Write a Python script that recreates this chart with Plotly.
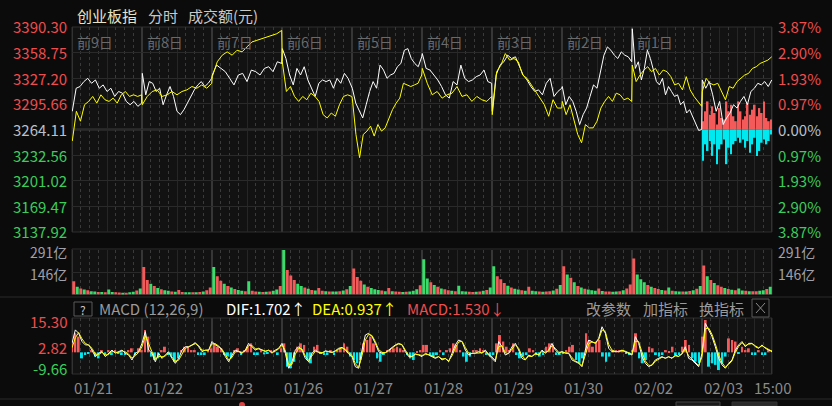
import numpy as np
import plotly.graph_objects as go

FONT = "Noto Sans CJK SC, Noto Sans, DejaVu Sans, sans-serif"
W, H = 832, 406
L, R = 72, 772          # plot area left/right in px
DAY = 240               # trading minutes per day
RED, GREEN, CYAN, YEL = "#f55a5a", "#3adc6a", "#00e8f0", "#ffff00"

# ---------------- labels ----------------
day_tags = ["前9日", "前8日", "前7日", "前6日", "前5日", "前4日", "前3日", "前2日", "前1日"]
date_tags = ["01/21", "01/22", "01/23", "01/26", "01/27", "01/28", "01/29", "01/30", "02/02", "02/03"]
close_tag = "15:00"
prev_close = 3264.11
price_ticks = [3390.30, 3358.75, 3327.20, 3295.66, 3264.11, 3232.56, 3201.02, 3169.47, 3137.92]
pct_text = ["3.87%", "2.90%", "1.93%", "0.97%", "0.00%", "0.97%", "1.93%", "2.90%", "3.87%"]
vol_ticks = [291, 146]
vol_text = ["291亿", "146亿"]
macd_ticks = [15.30, 2.82, -9.66]

# ---------------- 创业板指 (white) per day ----------------
cyb_0121 = [3286.5, 3314.9, 3317.0, 3323.1, 3327.1, 3321.0, 3325.1, 3314.9, 3319.0, 3310.9, 3314.9, 3304.8, 3310.9, 3308.8, 3298.7, 3294.6, 3298.7, 3292.6, 3296.6]
cyb_0122 = [3333.2, 3306.8, 3323.1, 3321.0, 3310.9, 3314.9, 3294.6, 3306.8, 3317.0, 3304.8, 3286.5, 3282.4, 3288.5, 3296.6, 3304.8, 3312.9, 3319.0, 3323.1, 3317.0, 3321.0, 3327.1]
cyb_0123 = [3331.2, 3343.4, 3339.3, 3335.3, 3327.1, 3319.0, 3331.2, 3333.2, 3323.1, 3337.3, 3335.3, 3331.2, 3339.3, 3341.4, 3335.3, 3347.5, 3345.4]
cyb_0126 = [3363.7, 3351.5, 3331.2, 3319.0, 3339.3, 3331.2, 3341.4, 3325.1, 3314.9, 3304.8, 3321.0, 3325.1, 3323.1, 3325.1, 3314.9, 3327.1, 3321.0, 3333.2, 3327.1, 3317.0]
cyb_0127 = [3314.9, 3296.6, 3286.5, 3278.3, 3294.6, 3310.9, 3323.1, 3314.9, 3343.4, 3337.3, 3327.1, 3331.2, 3333.2, 3341.4, 3345.4, 3361.7, 3363.7, 3351.5, 3345.4, 3341.4, 3353.6]
cyb_0128 = [3357.6, 3339.3, 3337.3, 3331.2, 3325.1, 3317.0, 3306.8, 3302.7, 3323.1, 3319.0, 3343.4, 3327.1, 3323.1, 3325.1, 3329.2, 3331.2, 3337.3, 3323.1, 3321.0]
cyb_0129 = [3286.5, 3331.2, 3343.4, 3347.5, 3355.6, 3351.5, 3353.6, 3341.4, 3331.2, 3325.1, 3317.0, 3310.9, 3312.9, 3306.8, 3321.0, 3327.1, 3304.8, 3310.9, 3314.9]
cyb_0130 = [3317.0, 3294.6, 3304.8, 3298.7, 3286.5, 3270.2, 3282.4, 3290.5, 3304.8, 3319.0, 3314.9, 3335.3, 3355.6, 3365.8, 3361.7, 3355.6, 3351.5, 3359.7, 3355.6, 3353.6, 3347.5]
cyb_0202 = [3388.1, 3339.3, 3347.5, 3325.1, 3339.3, 3361.7, 3351.5, 3335.3, 3323.1, 3319.0, 3327.1, 3306.8, 3317.0, 3310.9, 3304.8, 3306.8, 3294.6, 3298.7, 3284.4, 3288.5, 3280.4, 3270.2, 3262.9, 3264.1]
cyb_0203 = [3325.1, 3314.9, 3323.1, 3306.8, 3286.5, 3298.7, 3270.2, 3278.3, 3284.4, 3294.6, 3290.5, 3298.7, 3304.8, 3294.6, 3310.9, 3314.9, 3321.0, 3319.0, 3323.1, 3317.0, 3325.1]

# ---------------- comparison line (yellow) per day ----------------
cmp_0121 = [3249.9, 3286.5, 3274.3, 3294.6, 3298.7, 3304.8, 3296.6, 3306.8, 3300.7, 3298.7, 3302.7, 3296.6, 3306.8, 3310.9, 3304.8, 3306.8, 3304.8, 3306.8]
cmp_0122 = [3294.6, 3304.8, 3310.9, 3312.9, 3304.8, 3306.8, 3310.9, 3306.8, 3310.9, 3312.9, 3317.0, 3314.9, 3319.0, 3314.9, 3321.0]
cmp_0123 = [3329.2, 3347.5, 3355.6, 3359.7, 3355.6, 3361.7, 3359.7, 3365.8, 3371.9, 3373.9, 3375.9, 3378.0, 3380.0, 3382.0, 3386.1]
cmp_0126 = [3347.5, 3310.9, 3317.0, 3304.8, 3298.7, 3304.8, 3300.7, 3308.8, 3304.8, 3298.7, 3282.4, 3278.3, 3284.4, 3280.4, 3294.6, 3304.8, 3306.8, 3304.8]
cmp_0127 = [3302.7, 3258.0, 3229.5, 3258.0, 3262.1, 3268.2, 3256.0, 3270.2, 3262.1, 3266.1, 3278.3, 3288.5, 3296.6, 3302.7, 3321.0, 3319.0, 3317.0, 3319.0, 3321.0, 3331.2]
cmp_0128 = [3339.3, 3321.0, 3306.8, 3310.9, 3302.7, 3306.8, 3308.8, 3317.0, 3304.8, 3306.8, 3298.7, 3304.8, 3300.7, 3298.7, 3304.8]
cmp_0129 = [3282.4, 3335.3, 3343.4, 3357.6, 3349.5, 3351.5, 3347.5, 3331.2, 3327.1, 3319.0, 3310.9, 3302.7, 3294.6, 3280.4, 3300.7, 3290.5, 3290.5]
cmp_0130 = [3298.7, 3282.4, 3294.6, 3274.3, 3258.0, 3247.8, 3270.2, 3266.1, 3266.1, 3274.3, 3290.5, 3298.7, 3304.8, 3298.7, 3308.8, 3306.8, 3300.7, 3302.7, 3298.7]
cmp_0202 = [3343.4, 3323.1, 3331.2, 3337.3, 3341.4, 3335.3, 3339.3, 3331.2, 3337.3, 3335.3, 3329.2, 3319.0, 3321.0, 3312.9, 3329.2, 3312.9, 3304.8, 3298.7, 3292.6]
cmp_0203 = [3310.9, 3327.1, 3321.0, 3319.0, 3321.0, 3310.9, 3300.7, 3317.0, 3314.9, 3323.1, 3327.1, 3331.2, 3333.2, 3339.3, 3341.4, 3345.4, 3347.5, 3349.5, 3353.6]

# today's red / cyan bars (index points around previous close)
today_up = [10.2, 22.4, 34.6, 18.3, 28.5, 20.3, 6.1, 26.4, 14.2, 12.2, 34.6, 22.4, 30.5, 16.3, 10.2, 34.6, 22.4, 12.2, 16.3, 32.5, 18.3, 24.4, 30.5, 16.3, 26.4, 20.3, 34.6, 14.2, 10.2, 12.2]
today_down = [38.6, 18.3, 26.4, 14.2, 32.5, 18.3, 42.7, 24.4, 18.3, 12.2, 42.7, 22.4, 30.5, 18.3, 14.2, 10.2, 16.3, 12.2, 22.4, 14.2, 28.5, 18.3, 10.2, 32.5, 26.4, 16.3, 12.2, 18.3, 14.2, 6.1]

# ---------------- turnover (亿) per day, with up/down colour flags ----------------
vol_0121 = [86, 50, 40, 32, 27, 22, 20, 17, 16, 15, 33, 16, 14, 13, 12, 12, 14, 18, 26, 40]
vol_0122 = [180, 95, 70, 55, 42, 35, 28, 24, 20, 18, 29, 17, 15, 14, 14, 15, 16, 20, 28, 45]
vol_0123 = [180, 120, 90, 70, 55, 45, 36, 30, 25, 22, 86, 24, 20, 18, 17, 18, 20, 24, 32, 55]
vol_0126 = [291, 160, 125, 95, 70, 55, 45, 38, 30, 26, 43, 25, 22, 20, 19, 20, 22, 26, 35, 55]
vol_0127 = [170, 115, 90, 65, 50, 42, 35, 30, 26, 22, 43, 22, 20, 18, 17, 18, 20, 25, 35, 60]
vol_0128 = [230, 105, 80, 62, 50, 40, 34, 28, 25, 22, 58, 22, 20, 18, 17, 18, 20, 24, 30, 45]
vol_0129 = [185, 120, 100, 75, 58, 45, 38, 32, 28, 24, 50, 24, 21, 19, 18, 19, 21, 26, 38, 62]
vol_0130 = [185, 130, 110, 80, 55, 45, 38, 32, 28, 24, 40, 23, 20, 19, 18, 19, 22, 28, 40, 65]
vol_0202 = [236, 130, 100, 80, 62, 50, 42, 36, 30, 26, 45, 25, 22, 20, 19, 20, 23, 28, 38, 55]
vol_0203 = [190, 120, 95, 75, 60, 50, 42, 36, 31, 27, 40, 26, 24, 22, 21, 22, 24, 28, 36, 50]
updown_0121 = "rgrgrggrgrggrrgrggrg"
updown_0122 = "rrgrgrggrgrrggrgrgrr"
updown_0123 = "grrgrgrggrgrrgrgrggr"
updown_0126 = "grrrggrgrgrrgrggrgrg"
updown_0127 = "rrrgrgggrgrgrrgrgggr"
updown_0128 = "ggrgrgrrgrgggrrgrgrg"
updown_0129 = "grrrgrggrgrggrgrrgrg"
updown_0130 = "rgrgrgrgggrgrrggrgrr"
updown_0202 = "rgggrgrrgrgrggrgrgrg"
updown_0203 = "rgrgrrgrgrggrgrrggrg"

# ---------------- MACD (12,26,9) ----------------
dif_a = [4.0, 10.0, 8.5, 4.8, 3.3, 3.3, 1.0, -1.9, -0.4, 0.3, -1.9, -0.4, 1.0, -0.4, 0.3, 1.0, -0.4, -1.2, -3.4, -0.4,
         0.3, 4.0, 9.2, 1.0, -0.4, -4.2, -0.4, -2.7, -1.2, 0.3, -2.7, -4.9, -2.7, 1.0, 2.5, 2.5, 3.3, 4.3, 2.5, 0.3,
         1.0, 1.0, 4.8, 3.3, 2.5, 1.0, -1.9, -4.2, -1.2, 1.0, 0.3, -0.4, 1.0, 4.0, 2.5, 1.0, 1.8, 1.0, 0.3, 1.0,
         -0.4, 1.0, 1.8, 4.0, -0.4, -7.1, -4.2, 1.0, 2.5, 1.0, -2.7, -4.2, -0.4, 1.0, -0.1, -0.4, 0.7, 0.3, -0.1, 0.7,
         1.8, 2.2, 1.0, -0.7, -1.9, -6.4, -7.1, 1.0, 7.7, 8.5, 7.0, 4.0, 0.3, -0.4, -0.1, 1.0, 2.2, 3.3, 4.0, 3.3,
         0.3, -1.9, -1.9, -0.7, -1.2]
dif_b = [-1.9, -0.4, -1.2, -1.9, -2.7, -1.9, -3.4, -2.7, -4.2, -0.4, 3.3, 5.5, 4.8, 1.0, -1.2, -0.4, -0.4, 0.3, -0.4, 1.0,
         -1.2, -2.7, -4.2, 4.8, 2.5, -1.2, -0.4, 2.5, 4.0, 1.0, -2.7, -3.4, -1.2, -1.9, -0.4, -1.2, 1.0, -0.4, 1.0, 4.0,
         1.0, -0.4, 0.3, -0.4, -0.4, -3.4, -4.2, -4.9, -6.4, 1.0, 5.5, 4.8, 4.0, 6.2, 11.4, 8.5, 1.8, 0.3, 0.3, 0.3,
         1.0, 0.3, -0.4, -1.2, 7.0, 4.0, -1.9, -4.9, -6.4, -5.6, -3.4, -2.7, -1.9, -2.7, -1.9, -2.7, -1.2, -1.9, -0.4, 2.5,
         -2.7, -3.4, -4.9, -6.4, -0.4, 12.9, 10.0, 7.0, 2.5, -2.7, -5.6, -7.1, -4.9, -3.4, 1.0, 3.3, 4.8, 2.5, 4.0, 4.0,
         2.5, 1.8, 3.3, 1.8, 1.0, 0.3]
dea_a = [2.0, 6.5, 8.8, 6.0, 4.0, 3.2, 1.8, -0.8, -1.0, 0.0, -1.2, -1.0, 0.5, 0.0, 0.0, 0.6, 0.2, -0.8, -2.5, -1.5,
         0.0, 2.5, 7.5, 3.5, 0.2, -3.0, -1.8, -2.0, -1.6, -0.3, -2.0, -4.0, -3.5, -0.5, 1.8, 2.4, 3.0, 3.9, 3.0, 1.0,
         0.8, 1.0, 3.8, 3.8, 2.8, 1.4, -1.0, -3.4, -2.2, 0.2, 0.5, 0.0, 0.6, 3.0, 3.0, 1.6, 1.5, 1.2, 0.6, 0.8,
         0.0, 0.6, 1.5, 3.2, 0.8, -5.5, -5.4, -0.8, 1.8, 1.5, -1.6, -3.6, -1.6, 0.5, 0.2, -0.2, 0.4, 0.4, 0.0, 0.5,
         1.4, 2.0, 1.4, -0.2, -1.4, -5.0, -6.8, -1.5, 5.5, 8.0, 7.5, 4.8, 1.2, 0.0, -0.2, 0.6, 1.8, 3.0, 3.7, 3.5,
         1.0, -1.4, -1.8, -1.0, -1.0]
dea_b = [-1.4, -1.0, -1.0, -1.6, -2.3, -2.0, -2.9, -2.8, -3.7, -1.6, 2.0, 4.6, 4.9, 2.2, -0.4, -0.5, -0.4, 0.0, -0.2, 0.6,
         -0.6, -2.1, -3.6, 2.5, 2.9, -0.2, -0.6, 1.6, 3.4, 1.8, -1.6, -3.0, -1.8, -1.8, -0.8, -1.0, 0.4, 0.0, 0.6, 3.0,
         1.8, 0.0, 0.2, -0.2, -0.4, -2.4, -3.8, -4.6, -5.9, -1.2, 3.8, 4.6, 4.2, 5.6, 10.0, 9.2, 3.6, 1.0, 0.4, 0.3,
         0.8, 0.5, -0.2, -0.9, 5.0, 4.8, 0.0, -3.8, -5.8, -5.8, -4.0, -3.0, -2.2, -2.5, -2.1, -2.5, -1.6, -1.8, -0.8, 1.6,
         -1.6, -3.0, -4.4, -5.9, -2.0, 10.5, 10.8, 8.0, 3.8, -1.2, -4.6, -6.6, -5.4, -3.8, 0.0, 2.6, 4.3, 3.0, 3.6, 3.9,
         2.9, 2.0, 2.9, 2.1, 1.2, 0.5]
hist_a = [4.0, 8.5, 7.0, -2.7, -1.2, -0.4, 1.0, -1.9, -2.7, 1.0, -1.2, 1.0, -1.2, 1.0, -0.4, -1.2, -1.2, 1.0, 1.8, -1.2,
          1.8, 1.0, 10.0, 7.0, -1.9, -3.4, -2.7, 1.0, 2.5, -1.2, -1.9, -4.2, -2.7, 1.0, 2.5, 2.5, 1.0, 1.0, -1.2, -1.2,
          -1.2, 1.0, 1.8, 4.0, 2.5, 1.8, -1.2, -1.9, -2.7, 1.0, 1.8, -1.2, 1.0, 2.5, 4.0, -1.2, -1.2, 1.0, -0.9, -0.7,
          1.0, 1.0, -1.2, 1.8, 4.0, -6.4, -7.1, -4.2, 2.5, 4.0, 3.3, -3.4, -4.9, 2.5, 3.3, -0.4, -1.2, -1.2, 1.0, -1.2,
          1.0, 1.8, 4.0, 2.5, -1.9, -3.4, -4.9, -3.4, 4.0, 5.5, 7.0, 4.0, -2.7, -4.2, -1.2, 1.0, 1.0, 1.8, 2.5, 1.8,
          1.0, -1.2, -2.7, -3.4, 0.3, 1.0]
hist_b = [3.3, 3.3, -1.2, -1.9, -1.2, 1.0, -1.2, 1.0, 1.8, 4.0, 3.3, 1.0, -1.9, -4.2, -1.9, 1.0, 1.0, 1.8, 1.0, -1.2,
          -1.9, -1.2, 4.0, 7.7, 4.8, 2.5, 1.0, 4.0, -1.2, -2.7, -1.9, -1.2, 1.8, 1.0, -1.2, -1.9, -1.2, 2.5, 4.0, 3.3,
          -1.2, -1.2, -0.4, 1.0, 2.5, 3.3, -3.4, -4.9, -2.7, 8.5, 5.5, 2.5, 4.8, 5.5, -1.9, -4.2, -1.9, 1.0, 1.0, 1.0,
          1.0, -0.4, -1.2, 1.0, 8.5, -2.7, -4.9, -3.4, 2.5, 1.8, -1.2, -1.9, -1.2, 1.0, 0.3, 2.5, -1.2, -1.2, 2.5, 5.5,
          3.3, -2.7, -4.2, -4.9, 7.0, 14.4, -6.4, -4.9, -5.6, -7.9, -4.9, -1.9, 6.2, 5.5, 4.8, -0.4, 2.5, 1.0, 1.8, -1.2,
          -1.2, 1.0, -1.2, -1.2, 1.0, 1.0]

# ================= build =================
cyb_days = [cyb_0121, cyb_0122, cyb_0123, cyb_0126, cyb_0127, cyb_0128, cyb_0129, cyb_0130, cyb_0202, cyb_0203]
cmp_days = [cmp_0121, cmp_0122, cmp_0123, cmp_0126, cmp_0127, cmp_0128, cmp_0129, cmp_0130, cmp_0202, cmp_0203]
vol_days = [vol_0121, vol_0122, vol_0123, vol_0126, vol_0127, vol_0128, vol_0129, vol_0130, vol_0202, vol_0203]
ud_days = [updown_0121, updown_0122, updown_0123, updown_0126, updown_0127, updown_0128, updown_0129, updown_0130, updown_0202, updown_0203]
NDAYS = len(cyb_days)
XMAX = NDAYS * DAY


def series_xy(days):
    xs, ys = [], []
    for k, d in enumerate(days):
        xs += list(k * DAY + np.linspace(1, DAY - 1, len(d)))
        ys += d
    return xs, ys


def px(x):
    return x / W


def py(y):
    return 1 - y / H


fig = go.Figure()

# main panel: today's bars, then lines
tx = list((NDAYS - 1) * DAY + np.linspace(3, DAY - 3, len(today_up)))
bw = DAY / len(today_up) * 0.75
fig.add_trace(go.Bar(x=tx, y=today_up, base=prev_close, width=bw, marker=dict(color=RED, line=dict(width=0)),
                     xaxis="x", yaxis="y", hoverinfo="skip"))
fig.add_trace(go.Bar(x=tx, y=[-v for v in today_down], base=prev_close, width=bw,
                     marker=dict(color=CYAN, line=dict(width=0)), xaxis="x", yaxis="y", hoverinfo="skip"))
wx, wy = series_xy(cyb_days)
yx, yy = series_xy(cmp_days)
fig.add_trace(go.Scatter(x=wx, y=wy, mode="lines", line=dict(color="#ffffff", width=1), xaxis="x", yaxis="y"))
fig.add_trace(go.Scatter(x=yx, y=yy, mode="lines", line=dict(color=YEL, width=1), xaxis="x", yaxis="y"))

# volume panel
vx, vy, vc = [], [], []
for k, (d, ud) in enumerate(zip(vol_days, ud_days)):
    step = DAY / len(d)
    for i, v in enumerate(d):
        vx.append(k * DAY + (i + 0.5) * step)
        vy.append(v)
        vc.append(RED if ud[i] == "r" else GREEN)
fig.add_trace(go.Bar(x=vx, y=vy, width=DAY / 20 * 0.85, marker=dict(color=vc, line=dict(width=0)),
                     xaxis="x2", yaxis="y2", hoverinfo="skip"))

# MACD panel
hist = hist_a + hist_b
hx = list(np.linspace(0, XMAX, len(hist)))
fig.add_trace(go.Bar(x=hx, y=hist, width=XMAX / len(hist) * 0.6,
                     marker=dict(color=[RED if v >= 0 else CYAN for v in hist], line=dict(width=0)),
                     xaxis="x3", yaxis="y3", hoverinfo="skip"))
dif = dif_a + dif_b
dea = dea_a + dea_b
fig.add_trace(go.Scatter(x=list(np.linspace(0, XMAX, len(dif))), y=dif, mode="lines",
                         line=dict(color="#ffffff", width=1), xaxis="x3", yaxis="y3"))
fig.add_trace(go.Scatter(x=list(np.linspace(0, XMAX, len(dea))), y=dea, mode="lines",
                         line=dict(color=YEL, width=1), xaxis="x3", yaxis="y3"))

# ---------------- axes ----------------
major_v = [k * DAY + 120 for k in range(NDAYS)] + [(NDAYS - 1) * DAY + 60, (NDAYS - 1) * DAY + 180]
minor_v = [k * DAY + m for k in range(NDAYS) for m in (30, 60, 90, 150, 180, 210)]


def xax(anchor):
    return dict(domain=[px(L), px(R)], range=[0, XMAX], showticklabels=False, ticks="", zeroline=False,
                showgrid=True, tickvals=major_v, gridcolor="#262626", gridwidth=1,
                minor=dict(tickvals=minor_v, showgrid=True, gridcolor="#3a3a3a", griddash="dot", gridwidth=1),
                anchor=anchor, showline=False, fixedrange=True)


MAIN_T, MAIN_B = 27, 232
VOL_T, VOL_B = 250, 294.5
MACD_T, MACD_B = 318, 374

fig.update_layout(
    width=W, height=H, margin=dict(l=0, r=0, t=0, b=0),
    paper_bgcolor="#0b0b0b", plot_bgcolor="#121212",
    showlegend=False, barmode="overlay", font=dict(family=FONT),
    xaxis=xax("y"), xaxis2=xax("y2"), xaxis3=xax("y3"),
    yaxis=dict(domain=[py(MAIN_B), py(MAIN_T)], range=[price_ticks[-1], price_ticks[0]], tickvals=price_ticks,
               showticklabels=False, showgrid=True, gridcolor="#2a2a2a", zeroline=False, anchor="x"),
    yaxis2=dict(domain=[py(VOL_B), py(VOL_T)], range=[0, vol_ticks[0]], tickvals=vol_ticks,
                showticklabels=False, showgrid=True, gridcolor="#2a2a2a", zeroline=False, anchor="x2"),
    yaxis3=dict(domain=[py(MACD_B), py(MACD_T)], range=[macd_ticks[2], macd_ticks[0]],
                showticklabels=False, showgrid=False, zeroline=False, anchor="x3"),
)

# ---------------- shapes ----------------
shapes = []
for xa, ya in (("x", "y"), ("x2", "y2"), ("x3", "y3")):
    for k in range(NDAYS + 1):
        shapes.append(dict(type="line", xref=xa, yref=ya + " domain", x0=k * DAY, x1=k * DAY, y0=0, y1=1,
                           line=dict(color="#363636", width=2), layer="below"))
# zero-percent line
shapes.append(dict(type="line", xref="paper", yref="y", x0=px(L), x1=px(R), y0=prev_close, y1=prev_close,
                   line=dict(color="#3a3a3a", width=2), layer="below"))
# panel frames
for t, b in ((MAIN_T, MAIN_B), (VOL_T - 1, VOL_B), (MACD_T, MACD_B)):
    shapes.append(dict(type="rect", xref="paper", yref="paper", x0=px(L), x1=px(R), y0=py(b), y1=py(t),
                       line=dict(color="#2e2e2e", width=1), layer="below"))
# separators around MACD header and bottom bar
for yline in (297, 399):
    shapes.append(dict(type="line", xref="paper", yref="paper", x0=0, x1=1, y0=py(yline), y1=py(yline),
                       line=dict(color="#2a2a2a", width=1)))
# "?" box and close box
shapes.append(dict(type="rect", xref="paper", yref="paper", x0=px(74), x1=px(92), y0=py(316), y1=py(302),
                   line=dict(color="#5a5a5a", width=1)))
shapes.append(dict(type="rect", xref="paper", yref="paper", x0=px(752), x1=px(769), y0=py(317), y1=py(299),
                   line=dict(color="#5a5a5a", width=1)))
shapes.append(dict(type="line", xref="paper", yref="paper", x0=px(756), x1=px(765), y0=py(303), y1=py(313),
                   line=dict(color="#8a8a8a", width=1)))
shapes.append(dict(type="line", xref="paper", yref="paper", x0=px(756), x1=px(765), y0=py(313), y1=py(303),
                   line=dict(color="#8a8a8a", width=1)))
# bottom scrollbar bits
shapes.append(dict(type="rect", xref="paper", yref="paper", x0=px(676), x1=px(720), y0=0, y1=py(402),
                   fillcolor="#1a1a1a", line=dict(color="#444", width=1)))
shapes.append(dict(type="rect", xref="paper", yref="paper", x0=px(732), x1=px(777), y0=0, y1=py(402),
                   fillcolor="#2a2a2a", line=dict(color="#333", width=1)))
shapes.append(dict(type="circle", xref="paper", yref="paper", x0=px(239), x1=px(245), y0=py(408), y1=py(402),
                   fillcolor="#e04040", line=dict(width=0)))
fig.update_layout(shapes=shapes)

# ---------------- text ----------------
anns = []


def ann(text, x, y, color, size=14, xanchor="left"):
    anns.append(dict(text=text, x=px(x), y=py(y), xref="paper", yref="paper",
                     showarrow=False, xanchor=xanchor, yanchor="middle",
                     font=dict(color=color, size=size, family=FONT)))


ann("创业板指", 75, 15, "#e6e4c4", 15)
ann("分时", 146, 15, "#c8c8c8", 15)
ann("成交额(元)", 186, 15, "#c8c8c8", 15)

for i, tag in enumerate(day_tags):
    ann(tag, L + 3 + 70 * i, 42, "#6a6a6a", 14)

for i, (v, p) in enumerate(zip(price_ticks, pct_text)):
    if v > prev_close:
        c = "#ee4d4d"
    elif v < prev_close:
        c = "#3ccc5c"
    else:
        c = "#b8c0cc"
    yy_px = MAIN_T + (MAIN_B - MAIN_T) * i / (len(price_ticks) - 1)
    if i == len(price_ticks) - 1:
        yy_px -= 1
    ann(f"{v:.2f}", 69, yy_px, c, 15, "right")
    ann(p, 776, yy_px, c, 15, "left")

for v, t in zip(vol_ticks, vol_text):
    yy_px = VOL_B - (VOL_B - VOL_T) * v / vol_ticks[0]
    ann(t, 69, yy_px + 2, "#a0a0a8", 14, "right")
    ann(t, 776, yy_px + 2, "#a0a0a8", 14, "left")

# MACD header
ann("?", 83, 309, "#c8c8c8", 12, "center")
ann("MACD (12,26,9)", 97, 308, "#9a9a9a", 15)
ann("DIF:1.702↑", 224, 308, "#ffffff", 15)
ann("DEA:0.937↑", 310, 308, YEL, 15)
ann("MACD:1.530↓", 405, 308, "#ee4d4d", 15)
ann("改参数", 584, 308, "#9a9a9a", 15)
ann("加指标", 641, 308, "#9a9a9a", 15)
ann("换指标", 697, 308, "#9a9a9a", 15)

ann("15.30", 69, 321, "#ee4d4d", 15, "right")
ann("2.82", 69, 347, "#ee4d4d", 15, "right")
ann("-9.66", 69, 368, "#3ccc5c", 15, "right")

for i, d in enumerate(date_tags):
    ann(d, L + 70 * i, 387, "#8a8a8a", 15)
ann(close_tag, 752, 387, "#8a8a8a", 15)

fig.update_layout(annotations=anns)
fig.write_html("out.html", config={"displayModeBar": False},
               post_script="document.body.style.margin='0';document.body.style.overflow='hidden';")
